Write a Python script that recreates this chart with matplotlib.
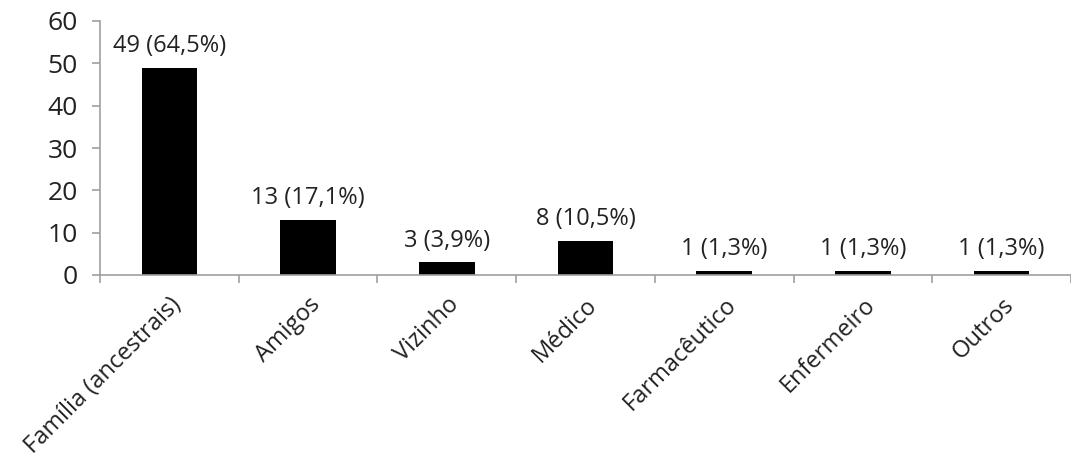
import matplotlib.pyplot as plt
import numpy as np

categorias = ["Família (ancestrais)", "Amigos", "Vizinho", "Médico",
              "Farmacêutico", "Enfermeiro", "Outros"]
valores = [49, 13, 3, 8, 1, 1, 1]
rotulos = ["49 (64,5%)", "13 (17,1%)", "3 (3,9%)", "8 (10,5%)",
           "1 (1,3%)", "1 (1,3%)", "1 (1,3%)"]

plt.rcParams["font.family"] = ["Open Sans", "DejaVu Sans"]

fig = plt.figure(figsize=(10.71, 4.63), dpi=100)
ax = fig.add_axes([100 / 1071, 188 / 463, 971 / 1071, 254 / 463])

x = np.arange(len(categorias))
ax.bar(x, valores, width=0.4, color="black")

for xi, v, r in zip(x, valores, rotulos):
    ax.annotate(r, (xi, v), xytext=(0, 7), textcoords="offset points",
                ha="center", va="bottom", fontsize=17, color="#222222")

ax.set_xlim(-0.5, len(categorias) - 0.5)
ax.set_ylim(0, 60)
ax.set_yticks(range(0, 61, 10))

# ticks no eixo x ficam nas divisas entre categorias
ax.set_xticks(np.arange(-0.5, len(categorias), 1.0))
ax.set_xticklabels([])
ax.tick_params(axis="x", length=6, width=1.2, color="#a0a0a0")
ax.set_xticks(x, minor=True)
ax.set_xticklabels(categorias, minor=True, rotation=45, ha="right",
                   rotation_mode="anchor", fontsize=17, color="#222222")
ax.tick_params(axis="x", which="minor", length=0, pad=13)
ax.tick_params(axis="y", length=6, width=1.2, color="#a0a0a0",
               labelsize=19, labelcolor="#222222", pad=10)

for s in ["top", "right"]:
    ax.spines[s].set_visible(False)
for s in ["left", "bottom"]:
    ax.spines[s].set_color("#a0a0a0")
    ax.spines[s].set_linewidth(1.2)

fig.savefig("out.png", dpi=100)
